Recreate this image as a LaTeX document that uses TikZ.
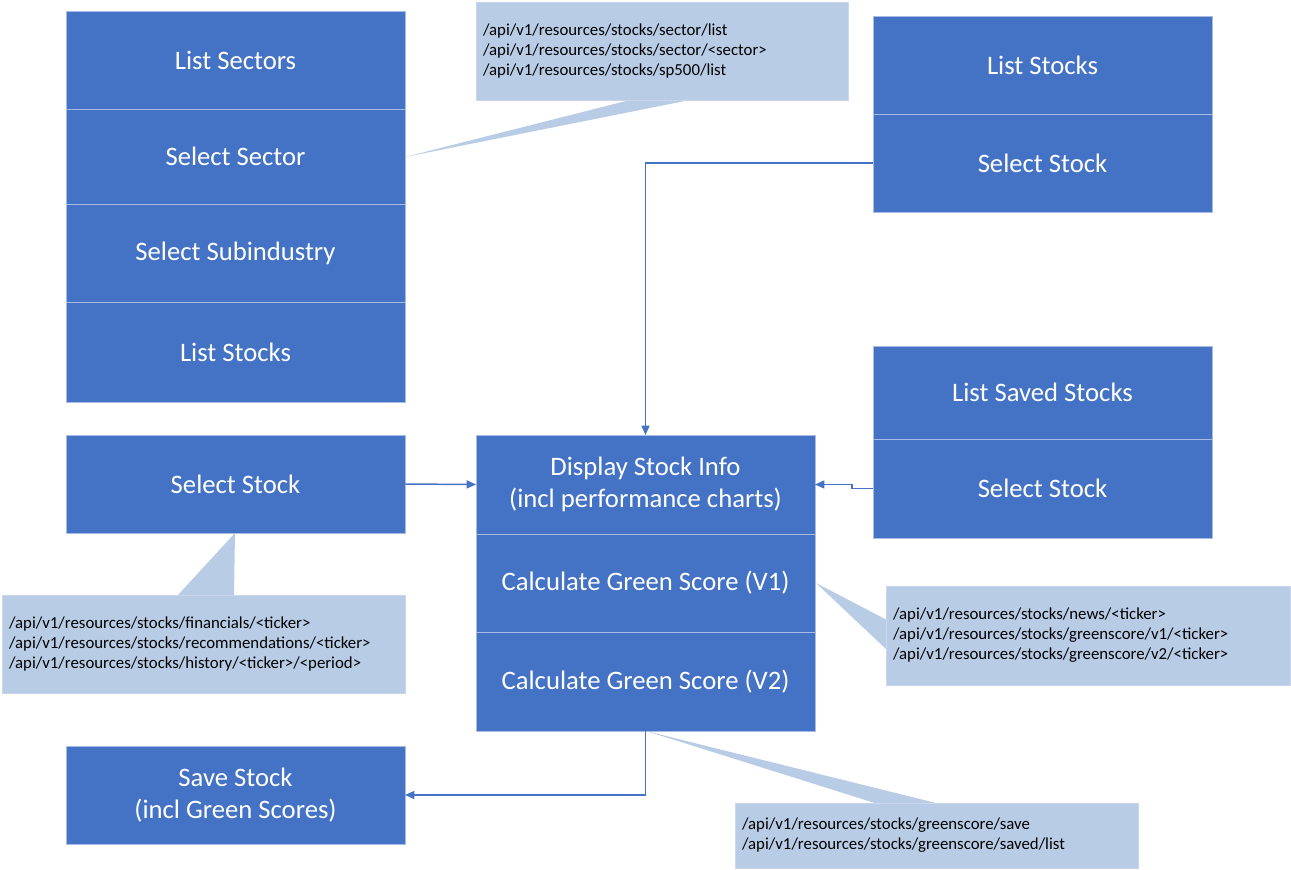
\documentclass[tikz,border=0pt]{standalone}
\usepackage{fontspec}
\setmainfont{Carlito}
\usetikzlibrary{arrows.meta}
\definecolor{blk}{HTML}{4472C4}
\definecolor{blkline}{HTML}{A9BDE4}
\definecolor{cfill}{HTML}{B8CCE6}
\definecolor{cline}{HTML}{C9D6EC}
\tikzset{
  blkbox/.style={rectangle, fill=blk, draw=blkline, line width=0.6pt, text=white,
    font=\fontsize{20}{24}\selectfont, align=center, inner sep=0pt, outer sep=0pt},
  callbox/.style={rectangle, fill=cfill, draw=cline, line width=0.5pt, text=black,
    font=\fontsize{12.6}{15}\selectfont, align=left, inner ysep=0pt, outer sep=0pt},
  conn/.style={draw=blk, line width=1.1pt, -{Triangle[length=7pt,width=6pt]}},
  ptr/.style={fill=cfill}
}
\newcommand\mkblk[6]{\node[blkbox, minimum width={(#4-#2)*0.75pt}, minimum height={(#5-#3)*0.75pt}] (#1) at ({(#2+#4)/2},{(#3+#5)/2}) {#6};}
\newcommand\mkcall[6]{\node[callbox, inner xsep={7*0.75pt}, text width={(#4-#2-14)*0.75pt}, minimum height={(#5-#3)*0.75pt}] (#1) at ({(#2+#4)/2},{(#3+#5)/2}) {#6};}
\begin{document}
\begin{tikzpicture}[x=0.75pt,y=-0.75pt]
\useasboundingbox (0,0) rectangle (1291,870);
% callout pointers (drawn first)
\fill[ptr] (630,100) -- (405,157) -- (690,100) -- cycle;
\fill[ptr] (177,596) -- (235,533) -- (234,596) -- cycle;
\fill[ptr] (887,620) -- (816,583) -- (887,650) -- cycle;
\fill[ptr] (878,804) -- (646,731) -- (940,804) -- cycle;
% left stack
\mkblk{ls}{66}{11}{405}{109}{List Sectors}
\mkblk{sec}{66}{109}{405}{204}{Select Sector}
\mkblk{sub}{66}{204}{405}{302}{Select Subindustry}
\mkblk{lst}{66}{302}{405}{402}{List Stocks}
% right top stack
\mkblk{rls}{873}{16}{1212}{114}{List Stocks}
\mkblk{rss}{873}{114}{1212}{212}{Select Stock}
% right middle stack
\mkblk{lss}{873}{346}{1212}{439}{List Saved Stocks}
\mkblk{mss}{873}{439}{1212}{538}{Select Stock}
% left select stock
\mkblk{lsel}{66}{435}{405}{533}{Select Stock}
% center stack
\mkblk{disp}{476}{435}{815}{534}{Display Stock Info\\(incl performance charts)}
\mkblk{gs1}{476}{534}{815}{632}{Calculate Green Score (V1)}
\mkblk{gs2}{476}{632}{815}{731}{Calculate Green Score (V2)}
% save
\mkblk{save}{66}{746}{405}{844}{Save Stock\\(incl Green Scores)}
% callouts
\mkcall{c1}{476}{2}{848}{100}{/api/v1/resources/stocks/sector/list\\/api/v1/resources/stocks/sector/<sector>\\/api/v1/resources/stocks/sp500/list}
\mkcall{c2}{2}{595}{405}{693}{/api/v1/resources/stocks/financials/<ticker>\\/api/v1/resources/stocks/recommendations/<ticker>\\/api/v1/resources/stocks/history/<ticker>/<period>}
\mkcall{c3}{886}{586}{1290}{685}{/api/v1/resources/stocks/news/<ticker>\\/api/v1/resources/stocks/greenscore/v1/<ticker>\\/api/v1/resources/stocks/greenscore/v2/<ticker>}
\mkcall{c4}{735}{803}{1138}{868}{/api/v1/resources/stocks/greenscore/save\\/api/v1/resources/stocks/greenscore/saved/list}
% connectors
\draw[conn] (rss.west) -| (disp.north);
\draw[conn] (lsel.east) -- (disp.west);
\draw[conn] (mss.west) -- ++(-21,0) |- (disp.east);
\draw[conn] (gs2.south) |- (save.east);
\end{tikzpicture}
\end{document}
